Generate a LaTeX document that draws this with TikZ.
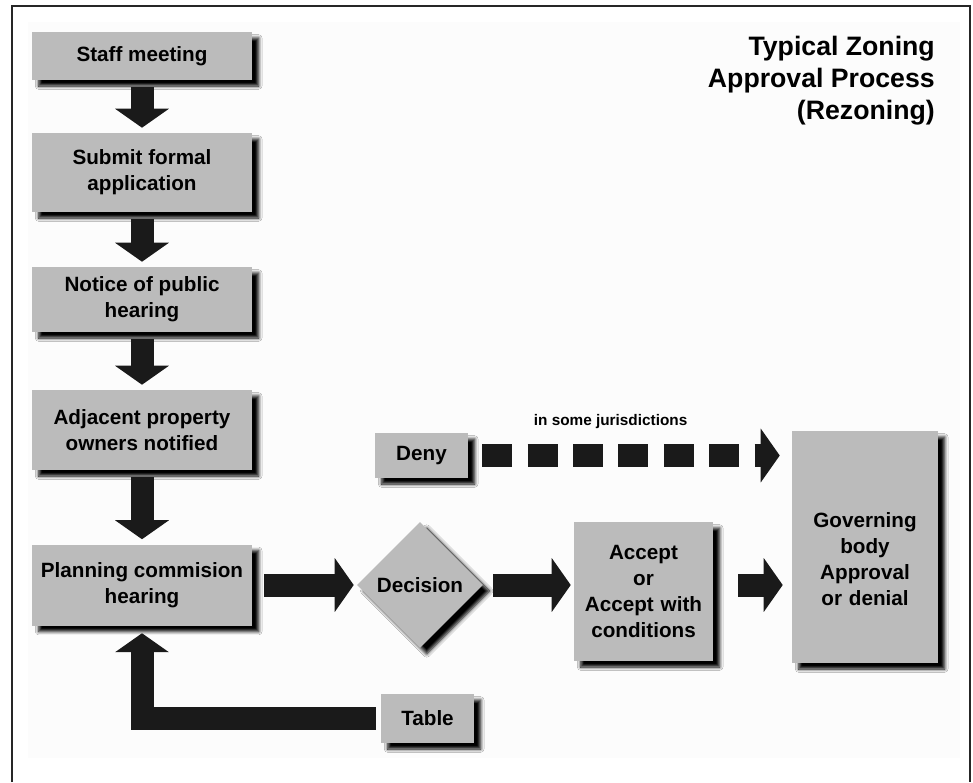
\documentclass[tikz,border=0pt]{standalone}
\usepackage{fontspec}
\setmainfont{Liberation Sans}
\usetikzlibrary{arrows.meta,shapes.geometric,shadows.blur}
\definecolor{boxgray}{HTML}{BBBBBB}
\definecolor{arrowblack}{HTML}{1A1A1A}
\tikzset{
    stepbox/.style={fill=boxgray, inner sep=2pt, align=center,
        font=\fontsize{15.5}{19.5}\selectfont\bfseries,
        blur shadow={shadow xshift=5pt, shadow yshift=-4.5pt, shadow opacity=100,
            shadow blur radius=2.5pt, shadow blur steps=6}},
    blockarrow/.style={draw=arrowblack, line width=17.25pt,
        -{Triangle[width=39.75pt, length=14.25pt]}, color=arrowblack},
}
\begin{document}
\begin{tikzpicture}[x=0.75pt, y=-0.75pt]
    \useasboundingbox (0,0) rectangle (973,782);
    % frame and faint backdrop
    \fill[black!1] (28,22) rectangle (960,758);
    \draw[line width=1.5pt, black!85] (12,782) |- (970,6) -- (970,782);
    \node[anchor=north east, inner sep=0pt, align=right,
        font=\fontsize{20}{24}\selectfont\bfseries] (title) at (935,36)
        {Typical Zoning\\Approval Process\\(Rezoning)};
    % left column
    \foreach \nm/\y/\h/\txt in {staff/56/36/{Staff meeting},
        submit/172.5/59.25/{Submit formal\\application},
        notice/299.5/48.75/{Notice of public\\hearing},
        adjacent/430/60/{Adjacent property\\owners notified},
        plan/585/60.75/{Planning commision\\hearing}} {
        \node[stepbox, minimum width=165pt, minimum height=\h pt] (\nm) at (142,\y) {\txt};
    }
    \foreach \a/\b in {staff/submit,submit/notice,notice/adjacent,adjacent/plan} {
        \draw[blockarrow, shorten <=5.25pt, shorten >=3.75pt] (\a) -- (\b);
    }
    % decision and outcomes
    \node[stepbox, diamond, aspect=1, inner sep=0pt, minimum width=94.5pt,
        minimum height=94.5pt] (decision) at (420,585) {Decision};
    \node[stepbox, minimum width=104.25pt, minimum height=104.25pt,
        text width=100pt] (accept) at (643.5,591.5) {Accept\\or\\Accept with\\conditions};
    \node[stepbox, minimum width=109.5pt, minimum height=174pt,
        text width=100pt] (gov) at (865,547) {\mbox{}\\[10.5pt]Governing\\body\\Approval\\or denial};
    \node[stepbox, minimum width=69.75pt, minimum height=33.75pt] (deny) at (421.5,455.5) {Deny};
    \node[stepbox, minimum width=69.75pt, minimum height=36.75pt] (table) at (427.5,718.5) {Table};
    % connectors
    \draw[blockarrow, shorten <=9pt, shorten >=2.25pt] (plan.east |- decision) -- (decision.west);
    \draw[blockarrow, shorten <=7.5pt, shorten >=2.25pt] (decision.east) -- (decision.east -| accept.west);
    \draw[blockarrow, shorten <=18.75pt, shorten >=6.75pt] (accept.east |- decision) -- (gov.west |- decision);
    \draw[blockarrow, dash pattern=on 22.5pt off 11.55pt, shorten <=10.5pt, shorten >=9pt]
        (deny.east) -- (deny.east -| gov.west)
        node[pos=0.44, above=8pt, font=\fontsize{11.5}{13}\selectfont\bfseries, text=black] (juris) {in some jurisdictions};
    \draw[blockarrow, line join=miter, shorten <=3.75pt, shorten >=5.6pt] (table.west) -| (plan.south);
\end{tikzpicture}
\end{document}
